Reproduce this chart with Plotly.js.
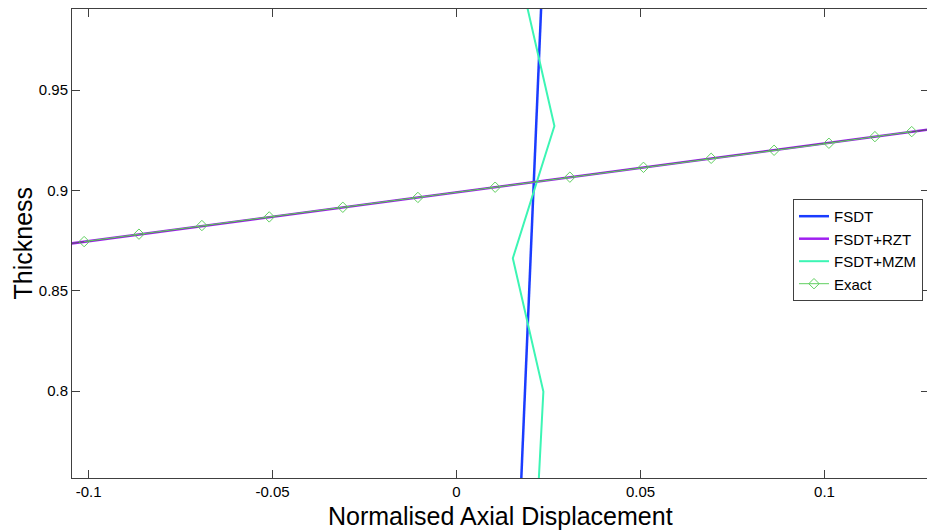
<!DOCTYPE html>
<html>
<head>
<meta charset="utf-8">
<script src="https://cdn.plot.ly/plotly-3.0.1.min.js"></script>
<style>
html,body{margin:0;padding:0;overflow:hidden;background:#fff;}
#chart{width:930px;height:531px;}
</style>
</head>
<body>
<div id="chart"></div>
<script>
// Data
var fsdtX = [0.0163, 0.0232];
var fsdtY = [0.70, 1.00];

var rztX = [-0.13, 0.15];
var rztY = [0.8674, 0.9356];

var mzmX = [0.0217, 0.0236, 0.0153, 0.0266, 0.0183];
var mzmY = [0.733, 0.7998, 0.8662, 0.9321, 0.9987];

var exactX = [-0.1012, -0.0863, -0.0692, -0.0509, -0.0309, -0.0105, 0.0105, 0.0308, 0.0508, 0.0692, 0.0863, 0.1012, 0.1137, 0.1237];
var exactY = [0.8745, 0.8782, 0.8825, 0.8868, 0.8916, 0.8965, 0.9016, 0.9066, 0.9115, 0.9160, 0.9200, 0.9235, 0.9268, 0.9293];

var xTickVals = [-0.1, -0.05, 0, 0.05, 0.1];
var xTickText = ['-0.1', '-0.05', '0', '0.05', '0.1'];
var yTickVals = [0.8, 0.85, 0.9, 0.95];
var yTickText = ['0.8', '0.85', '0.9', '0.95'];

var xTitle = 'Normalised Axial Displacement';
var yTitle = 'Thickness';

var font = 'Liberation Sans, Arial, sans-serif';
var axisCol = '#404040';

var traces = [
  {x: fsdtX, y: fsdtY, mode: 'lines', name: 'FSDT', line: {color: '#1a3cff', width: 2.5}},
  {x: rztX, y: rztY, mode: 'lines', name: 'FSDT+RZT', line: {color: '#a020f0', width: 2.5}},
  {x: mzmX, y: mzmY, mode: 'lines', name: 'FSDT+MZM', line: {color: '#3cf5b4', width: 2}},
  {x: rztX, y: rztY, mode: 'lines', showlegend: false, hoverinfo: 'skip', line: {color: '#555566', width: 1}},
  {x: exactX, y: exactY, mode: 'lines+markers', name: 'Exact',
   line: {color: '#5fcf5f', width: 1},
   marker: {symbol: 'diamond-open', size: 8, color: '#5fcf5f', line: {width: 1, color: '#5fcf5f'}}}
];

var layout = {
  width: 930, height: 531,
  margin: {l: 72, r: 1, t: 9, b: 53},
  paper_bgcolor: '#fff', plot_bgcolor: '#fff',
  font: {family: font, color: '#000', size: 15},
  showlegend: true,
  legend: {
    x: 0.8413, y: 0.595, xanchor: 'left', yanchor: 'top',
    bgcolor: '#fff', bordercolor: axisCol, borderwidth: 1,
    font: {family: font, size: 15, color: '#000'},
    tracegroupgap: 0
  },
  xaxis: {
    range: [-0.1045, 0.1284],
    tickvals: xTickVals, ticktext: xTickText,
    ticks: 'inside', ticklen: 8, tickcolor: axisCol, tickwidth: 1,
    showline: true, linecolor: axisCol, linewidth: 1, mirror: 'ticks',
    showgrid: false, zeroline: false,
    tickfont: {family: font, size: 15, color: '#000'}
  },
  yaxis: {
    range: [0.7567, 0.9904],
    tickvals: yTickVals, ticktext: yTickText,
    ticks: 'inside', ticklen: 8, tickcolor: axisCol, tickwidth: 1,
    showline: true, linecolor: axisCol, linewidth: 1, mirror: 'ticks',
    showgrid: false, zeroline: false,
    tickfont: {family: font, size: 15, color: '#000'}
  },
  annotations: [
    {text: xTitle, xref: 'paper', yref: 'paper', x: 0.5, y: 0, xanchor: 'center', yanchor: 'top',
     yshift: -22, showarrow: false, font: {family: font, size: 25, color: '#000'}},
    {text: yTitle, xref: 'paper', yref: 'paper', x: 0, y: 0.5, xanchor: 'center', yanchor: 'middle',
     xshift: -50, textangle: -90, showarrow: false, font: {family: font, size: 25, color: '#000'}}
  ]
};

Plotly.newPlot('chart', traces, layout, {staticPlot: true, displayModeBar: false});
</script>
</body>
</html>
